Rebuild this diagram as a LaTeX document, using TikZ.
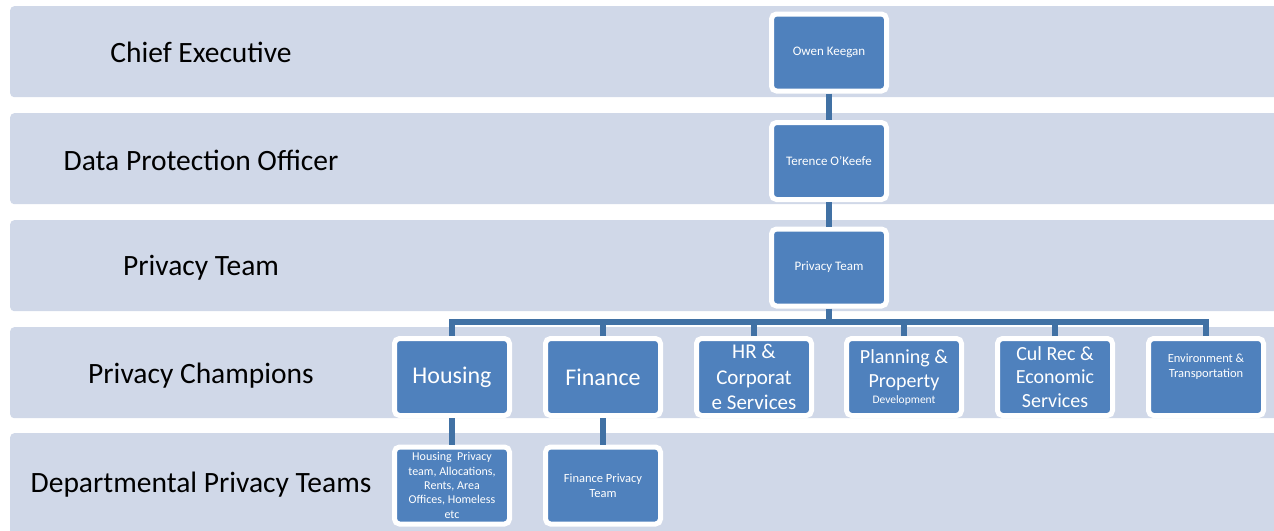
\documentclass[tikz,border=0pt]{standalone}
\usepackage{fontspec}
\setmainfont{Carlito}
\definecolor{bandcol}{RGB}{208,216,232}
\definecolor{boxblue}{RGB}{79,129,189}
\definecolor{conncol}{RGB}{65,113,164}
\begin{document}
\begin{tikzpicture}[x=1pt,y=-1pt,
  bandbox/.style={fill=bandcol, rounded corners=4pt, inner sep=0pt, anchor=north west, minimum width=1300pt},
  lbl/.style={font=\fontsize{29.5}{35}\selectfont, text=black},
  orgbox/.style={draw=white, line width=5pt, fill=boxblue, rounded corners=5pt,
    minimum width=115pt, minimum height=77pt, text width=112pt, align=flush center,
    text=white, inner sep=0pt},
  link/.style={draw=conncol, line width=6pt}]
\useasboundingbox (0,0) rectangle (1274,530);
\clip (0,0) rectangle (1274,530);
% bands
\node[bandbox, minimum height=91pt] (b1) at (10,6) {};
\node[bandbox, minimum height=91pt] (b2) at (10,113) {};
\node[bandbox, minimum height=91pt] (b3) at (10,220) {};
\node[bandbox, minimum height=91pt] (b4) at (10,327) {};
\node[bandbox, minimum height=110pt] (b5) at (10,433) {};
% labels
\node[lbl] (l1) at (201,52) {Chief Executive};
\node[lbl] (l2) at (201,160) {Data Protection Officer};
\node[lbl] (l3) at (201,268) {Privacy Team};
\node[lbl] (l4) at (201,376) {Privacy Champions};
\node[lbl] (l5) at (201,485) {Departmental Privacy Teams};
% boxes
\node[orgbox, font=\fontsize{13}{15.5}\selectfont] (ceo) at (829,52.5) {Owen Keegan};
\node[orgbox, font=\fontsize{13}{15.5}\selectfont] (dpo) at (829,161) {Terence O’Keefe};
\node[orgbox, font=\fontsize{13}{15.5}\selectfont] (pteam) at (829,267.5) {Privacy Team};
\node[orgbox, font=\fontsize{24}{29}\selectfont] (housing) at (452,377) {Housing};
\node[orgbox, font=\fontsize{24}{29}\selectfont] (finance) at (603,377) {Finance};
\node[orgbox, font=\fontsize{21}{25.5}\selectfont] (hr) at (754,377) {HR \&\\Corporat\\e Services};
\node[orgbox, font=\fontsize{20}{24}\selectfont] (planning) at (904,377) {Planning \&\\Property\\[-8pt]{\fontsize{11.5}{13}\selectfont Development}};
\node[orgbox, font=\fontsize{20}{23.5}\selectfont] (culrec) at (1055,377) {Cul Rec \&\\Economic\\Services};
\node[orgbox, font=\fontsize{12.5}{15}\selectfont] (env) at (1206,377) {Environment \&\\Transportation\\[7pt]\mbox{}};
\node[orgbox, font=\fontsize{12}{14.4}\selectfont] (hpt) at (452,485.5) {Housing\ \ Privacy\\team, Allocations,\\Rents, Area\\Offices, Homeless\\etc};
\node[orgbox, font=\fontsize{12.5}{14.5}\selectfont] (fpt) at (603,485.5) {Finance Privacy\\Team};
% connectors
\coordinate (bar) at (829,322);
\draw[link] (ceo) -- (dpo);
\draw[link] (dpo) -- (pteam);
\draw[link] (pteam.south) -- (pteam.south |- bar);
\draw[link, line join=miter] (housing.north) -- (housing.north |- bar) -- (env.north |- bar) -- (env.north);
\draw[link] (finance.north) -- (finance.north |- bar);
\draw[link] (hr.north) -- (hr.north |- bar);
\draw[link] (planning.north) -- (planning.north |- bar);
\draw[link] (culrec.north) -- (culrec.north |- bar);
\draw[link] (housing) -- (hpt);
\draw[link] (finance) -- (fpt);
\end{tikzpicture}
\end{document}
